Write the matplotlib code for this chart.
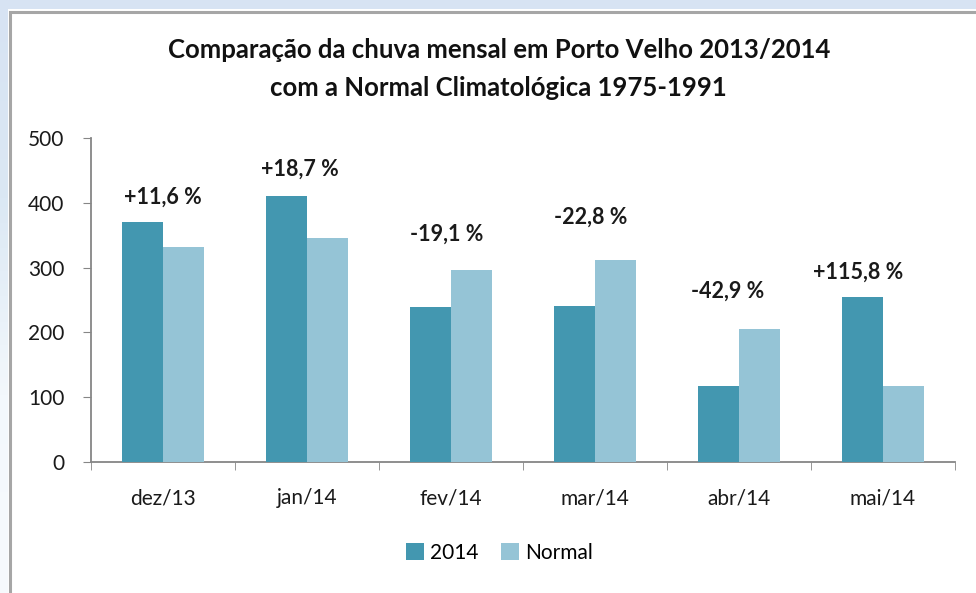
import matplotlib
matplotlib.use("Agg")
import matplotlib.pyplot as plt
import numpy as np
from matplotlib.patches import Rectangle
from matplotlib.colors import LinearSegmentedColormap

categories = ["dez/13", "jan/14", "fev/14", "mar/14", "abr/14", "mai/14"]
rain_2014 = [371, 411, 239, 241, 117, 255]
rain_normal = [332, 346, 296, 311, 205, 118]
pct_labels = ["+11,6 %", "+18,7 %", "-19,1 %", "-22,8 %", "-42,9 %", "+115,8 %"]
label_x = [0.0, 0.95, 1.97, 2.97, 3.92, 4.83]
label_y = [409, 452, 352, 378, 263, 293]
yticks = [0, 100, 200, 300, 400, 500]

FONT = "Lato"
plt.rcParams["font.family"] = [FONT, "DejaVu Sans"]

W, H = 976, 593
fig = plt.figure(figsize=(W / 100, H / 100), dpi=100)
fig.patch.set_facecolor("#d7e3f3")

# left gradient strip and white chart frame
bg = fig.add_axes([0, 0, 1, 1], zorder=-10)
bg.set_xlim(0, W); bg.set_ylim(H, 0); bg.axis("off")
grad = np.linspace(0, 1, 200).reshape(-1, 1)
cm = LinearSegmentedColormap.from_list("g", ["#d7e3f3", "#dbe8f4", "#f3f8fc", "#f7fafd"])
bg.imshow(grad, extent=[0, 12, H, 0], cmap=cm, aspect="auto", zorder=0)
bg.add_patch(Rectangle((8, 9), W, H, facecolor="white", edgecolor="none", zorder=1))
bg.add_patch(Rectangle((10, 12), W, H, facecolor="white", edgecolor="#a6a6a6", linewidth=2.2, zorder=2))

ax = fig.add_axes([91 / W, 1 - 462 / H, (955 - 91) / W, (462 - 138) / H])
ax.set_facecolor("none")
x = np.arange(len(categories))
bw = 0.288
ax.bar(x - bw / 2, rain_2014, width=bw, color="#4397b0", label="2014", zorder=3)
ax.bar(x + bw / 2, rain_normal, width=bw, color="#95c4d6", label="Normal", zorder=3)

ax.set_xlim(-0.5, len(categories) - 0.5)
ax.set_ylim(0, 500)
ax.set_yticks(yticks)
ax.set_yticklabels([str(v) for v in yticks], fontsize=15, color="#1a1a1a")
ax.set_xticks(x)
ax.set_xticklabels(categories, fontsize=15, color="#1a1a1a")
ax.set_xticks(np.arange(-0.5, len(categories)), minor=True)
ax.tick_params(axis="x", which="major", length=0, pad=19)
ax.tick_params(axis="x", which="minor", length=6, color="#868686", direction="out")
ax.tick_params(axis="y", length=6, color="#868686", pad=13)
for s in ["top", "right"]:
    ax.spines[s].set_visible(False)
for s in ["left", "bottom"]:
    ax.spines[s].set_color("#868686")
    ax.spines[s].set_linewidth(1.3)

for lx, ly, t in zip(label_x, label_y, pct_labels):
    ax.text(lx, ly, t, ha="center", va="center", fontsize=15.5, fontweight="bold", color="#1a1a1a")

fig.text(0.511, 1 - 50 / H, "Comparação da chuva mensal em Porto Velho 2013/2014",
         ha="center", va="center", fontsize=18.5, fontweight="bold", color="#111111")
fig.text(0.511, 1 - 88 / H, "com a Normal Climatológica 1975-1991",
         ha="center", va="center", fontsize=18.5, fontweight="bold", color="#111111")

leg = fig.legend(loc="center", bbox_to_anchor=(0.512, 1 - 553 / H), ncol=2, frameon=False,
                 fontsize=15, handlelength=0.85, handleheight=0.85, handletextpad=0.3,
                 columnspacing=1.1)

fig.savefig("out.png", dpi=100)
